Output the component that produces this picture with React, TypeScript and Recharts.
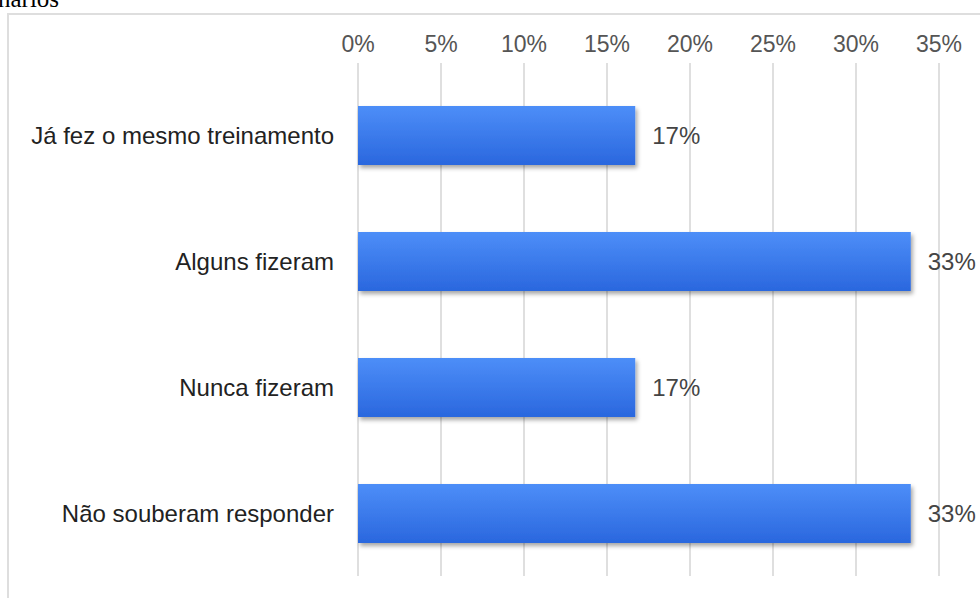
import { Bar, BarChart, CartesianGrid, LabelList, XAxis, YAxis } from 'recharts';

// categorias e valores (percentual de respostas)
const categories = [
  'Já fez o mesmo treinamento',
  'Alguns fizeram',
  'Nunca fizeram',
  'Não souberam responder',
];
const values = [16.7, 33.3, 16.7, 33.3];
const xTicks = [0, 5, 10, 15, 20, 25, 30, 35];

const chartData = categories.map((name, i) => ({ name, value: values[i] }));

const FONT = '"Liberation Sans", Arial, Helvetica, sans-serif';

export default function App() {
  return (
    <div
      style={{
        position: 'absolute',
        left: 0,
        top: 0,
        width: 980,
        height: 598,
        overflow: 'hidden',
        background: '#fff',
      }}
    >
      {/* título cortado da página original */}
      <div
        style={{
          position: 'absolute',
          left: -2,
          top: -14,
          fontFamily: '"Liberation Serif", "Times New Roman", serif',
          fontSize: 25,
          lineHeight: '25px',
          color: '#000',
          whiteSpace: 'nowrap',
        }}
      >
        nários
      </div>

      {/* moldura */}
      <div
        style={{
          position: 'absolute',
          left: 7,
          top: 13,
          width: 1000,
          height: 620,
          border: '2px solid #dedede',
        }}
      />

      <div style={{ position: 'absolute', left: 0, top: 0 }}>
        <BarChart
          width={980}
          height={598}
          data={chartData}
          layout="vertical"
          margin={{ top: 0, right: 41, bottom: 22, left: 0 }}
        >
          <defs>
            <linearGradient id="barFill" x1="0" y1="0" x2="0" y2="1">
              <stop offset="0%" stopColor="#4d8ef8" />
              <stop offset="100%" stopColor="#2a67de" />
            </linearGradient>
            <filter id="barShadow" x="-5%" y="-20%" width="115%" height="150%">
              <feDropShadow dx="2" dy="3" stdDeviation="2" floodColor="#000" floodOpacity="0.35" />
            </filter>
          </defs>

          <CartesianGrid horizontal={false} stroke="#d4d4d4" strokeWidth={1.5} />

          <XAxis
            type="number"
            orientation="top"
            domain={[0, 35]}
            ticks={xTicks}
            height={72}
            axisLine={false}
            tickLine={{ stroke: '#d4d4d4', strokeWidth: 1.5 }}
            tickSize={9}
            tickMargin={11}
            tickFormatter={(v: number) => `${v}%`}
            tick={{ fontSize: 23, fill: '#555', fontFamily: FONT }}
            interval={0}
          />

          <YAxis
            type="category"
            dataKey="name"
            width={358}
            axisLine={false}
            tickLine={false}
            tickSize={0}
            tickMargin={24}
            tick={{ fontSize: 24, fill: '#222', fontFamily: FONT }}
            interval={0}
          />

          <Bar
            dataKey="value"
            barSize={59}
            fill="url(#barFill)"
            filter="url(#barShadow)"
            isAnimationActive={false}
          >
            <LabelList
              dataKey="value"
              position="right"
              offset={17}
              fill="#444"
              fontSize={24}
              fontFamily={FONT}
              formatter={(v: number) => `${Math.round(v)}%`}
            />
          </Bar>
        </BarChart>
      </div>
    </div>
  );
}
